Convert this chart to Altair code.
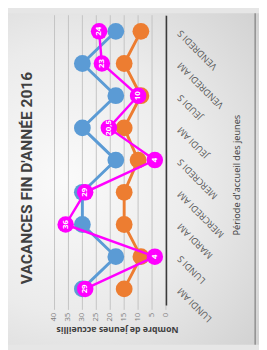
import altair as alt
import pandas as pd

# ---- data ----
periods = ["LUNDI AM", "LUNDI S", "MARDI AM", "MERCREDI AM", "MERCREDI S",
           "JEUDI AM", "JEUDI S", "VENDREDI AM", "VENDREDI S"]
serie_bleue = [30, 18, 30, 30, 18, 30, 18, 30, 18]
serie_orange = [15, 9, 15, 15, 10, 15, 9, 15, 9]
jeunes_accueillis = [29, 4, 36, 29, 4, 20.5, 10, 23, 24]
ticks_valeurs = [0, 5, 10, 15, 20, 25, 30, 35, 40]

titre = "VACANCES FIN D'ANNÉE 2016"
titre_valeurs = "Nombre de jeunes accueillis"
titre_periodes = "Période d'accueil des jeunes"

W, H = 115, 299

rows = []
for i, p in enumerate(periods):
    rows.append({"periode": p, "idx": i, "serie": "bleu", "v": serie_bleue[i]})
    rows.append({"periode": p, "idx": i, "serie": "orange", "v": serie_orange[i]})
    rows.append({"periode": p, "idx": i, "serie": "rose", "v": jeunes_accueillis[i],
                 "lab": f"{jeunes_accueillis[i]:g}".replace(".", ",")})
df = pd.DataFrame(rows)
ticks_df = pd.DataFrame({"t": ticks_valeurs, "tl": [str(t) for t in ticks_valeurs]})

xscale = alt.Scale(domain=[0, 40], reverse=True, nice=False, zero=True)
yscale = alt.Scale(domain=list(reversed(periods)), type="point", padding=0.5)

xenc = alt.X("v:Q", scale=xscale, axis=None)
yenc = alt.Y("periode:N", scale=yscale,
             axis=alt.Axis(orient="right", domain=True, domainColor="#3a3a3a",
                           domainWidth=1.6, ticks=False, labelAngle=225,
                           labelAlign="right", labelBaseline="middle", labelPadding=13,
                           labelFontSize=9.5, labelFont="Open Sans", labelOverlap=False,
                           labelColor="#595959", title=None, zindex=1))

bg = alt.Chart(pd.DataFrame({"a": [0]})).mark_rect(
    fill=alt.RadialGradient(
        gradient="radial",
        stops=[alt.GradientStop(color="#fafafa", offset=0),
               alt.GradientStop(color="#ebebeb", offset=0.5),
               alt.GradientStop(color="#cfcfcf", offset=1)],
        x1=0.3, y1=0.5, r1=0, x2=0.3, y2=0.5, r2=0.8),
).encode(x=alt.value(-48), x2=alt.value(W + 96), y=alt.value(-2), y2=alt.value(H + 41))

edge = alt.Chart(pd.DataFrame({"a": [0]})).mark_rule(color="#6a6a6a", strokeWidth=1).encode(
    x=alt.value(207), y=alt.value(-2), y2=alt.value(H + 41))

grid = alt.Chart(ticks_df).mark_rule(color="#c3c3c3", strokeWidth=1).encode(
    x=alt.X("t:Q", scale=xscale, axis=None), y=alt.value(0), y2=alt.value(H + 5))

tick_labels = alt.Chart(ticks_df).mark_text(
    angle=270, align="right", baseline="middle", font="Open Sans", fontSize=8,
    color="#7f7f7f").encode(
    x=alt.X("t:Q", scale=xscale, axis=None), y=alt.value(H + 8), text="tl:N")

colors = {"bleu": "#5B9BD5", "orange": "#ED7D31", "rose": "#FF00FF"}
layers = [bg, edge, grid, tick_labels]
for s, sw in [("orange", 3), ("bleu", 3), ("rose", 2.5)]:
    base = alt.Chart(df[df.serie == s])
    layers.append(base.mark_line(color=colors[s], strokeWidth=sw).encode(
        x=xenc, y=yenc, order=alt.Order("idx:Q")))
    layers.append(base.mark_circle(color=colors[s], opacity=1,
                                   size=300 if s != "rose" else 290).encode(x=xenc, y=yenc))

labels = alt.Chart(df[df.serie == "rose"]).mark_text(
    color="white", fontWeight="bold", fontSize=8, font="Open Sans", angle=270,
    align="center", baseline="middle").encode(x=xenc, y=yenc, text="lab:N")
layers.append(labels)

t1 = alt.Chart(pd.DataFrame({"t": [titre]})).mark_text(
    angle=270, align="center", baseline="middle", font="Roboto",
    fontWeight="bold", fontSize=16, color="#404040").encode(
    x=alt.value(-28), y=alt.value(168), text="t:N")
t2 = alt.Chart(pd.DataFrame({"t": [titre_valeurs]})).mark_text(
    angle=180, align="center", baseline="middle", font="Open Sans",
    fontWeight="bold", fontSize=9, color="#404040").encode(
    x=alt.value(65), y=alt.value(325), text="t:N")
t3 = alt.Chart(pd.DataFrame({"t": [titre_periodes]})).mark_text(
    angle=270, align="center", baseline="middle", font="Open Sans",
    fontSize=9.5, color="#404040").encode(
    x=alt.value(188), y=alt.value(165), text="t:N")
layers += [t1, t2, t3]

chart = alt.layer(*layers).properties(
    width=W, height=H,
    autosize=alt.AutoSizeParams(type="none"),
    padding={"left": 48, "top": 2, "right": 96, "bottom": 41},
    background="#e6e6e6",
).configure_view(stroke=None)

chart.save("out.html", embed_options={"renderer": "svg", "actions": False})
